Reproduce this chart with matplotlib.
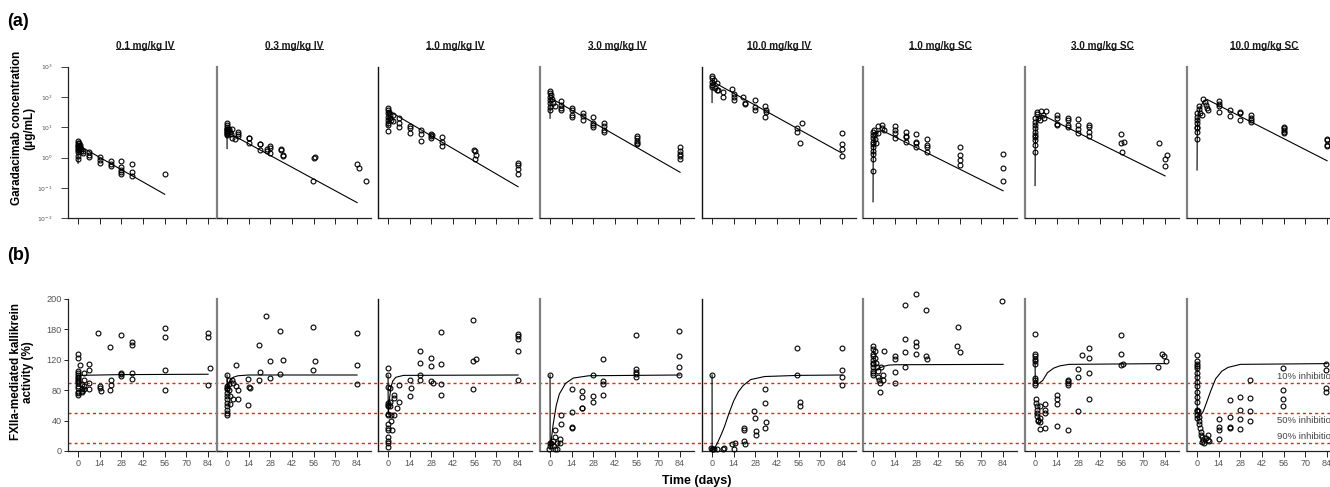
import matplotlib
matplotlib.use('Agg')
import matplotlib.pyplot as plt
from matplotlib.lines import Line2D
from matplotlib.ticker import NullLocator

plt.rcParams['font.family'] = ['Liberation Sans', 'DejaVu Sans']

# ---------------- data ----------------
titles = ['0.1 mg/kg IV', '0.3 mg/kg IV', '1.0 mg/kg IV', '3.0 mg/kg IV',
          '10.0 mg/kg IV', '1.0 mg/kg SC', '3.0 mg/kg SC', '10.0 mg/kg SC']
time_ticks = [0, 14, 28, 42, 56, 70, 84]
pk_ticks = [1e-2, 1e-1, 1e0, 1e1, 1e2, 1e3]
pk_tick_labels = [r'$10^{-2}$', r'$10^{-1}$', r'$10^{0}$', r'$10^{1}$', r'$10^{2}$', r'$10^{3}$']
pd_ticks = [0, 40, 80, 120, 160, 200]
pd_tick_labels = ['0', '40', '80', '120', '180', '200']
thresholds = [90, 50, 10]
threshold_labels = ['10% inhibition', '50% inhibition', '90% inhibition']
threshold_label_y = [98, 39.5, 19]

# PK observations (days, ug/mL)
pk_t1 = [0,0,0,0,0,0,0,0,0,0, 0.5,0.5,1,1,1.5,2,2,3,3, 7,7,7, 14,14,14, 21,21,21, 28,28,28,28,28, 35,35,35, 56]
pk_c1 = [3.6,3.1,2.7,2.4,2.2,2.0,1.8,1.5,1.15,0.9, 3.0,2.5,2.6,2.1,2.3,1.9,1.6,1.7,1.4, 1.5,1.25,1.05, 1.05,0.85,0.68, 0.8,0.63,0.52, 0.8,0.48,0.4,0.33,0.28, 0.62,0.33,0.25, 0.28]
pk_t2 = [0,0,0,0,0,0,0,0,0,0,0, 1,1.5,2,2.5,3, 3.5,5, 7,7,7, 14,14,14, 21,21,21, 25.5,26,27.5,28,28, 35,35,36,36, 55.5,56,57, 84,85, 90]
pk_c2 = [13.5,11.5,10,9,8.5,8,7.5,7,6.5,6,5.5, 8.5,7.5,7,6.2,9, 4.6,4.1, 7.2,6,5, 4.6,4.3,3.1, 2.9,2.8,1.8, 1.9,1.6,2.5,2.1,1.4, 2.0,1.8,1.25,1.1, 0.17,0.99,1.05, 0.62,0.47, 0.17]
pk_t3 = [0,0,0,0,0,0,0,0, 0.5,1,1.5,2,3,3.5, 7,7,7, 14,14,14, 21,21,21, 27.5,28,28,28.5, 35,35,35, 55.5,56,57,56, 84,84,84,84]
pk_c3 = [45,37,29,22,17.5,14,12,7.7, 33,25,20,17,25,16, 21,13.6,10.5, 11,9.3,6.7, 8.1,6.1,3.6, 6,5.2,4.5,5.5, 4.7,3.4,2.5, 1.8,1.6,1.25,0.9, 0.69,0.58,0.43,0.29]
pk_t4 = [0,0,0,0,0,0,0, 0.5,1,2,3, 7,7,7,7, 14,14,14,14, 21,21,21, 28,28,28,28, 35,35,35,35, 56,56,56,56,56, 84,84,84,84,84]
pk_c4 = [162,132,102,80,62,48,37, 115,85,65,50, 74,55,45,36, 42,36,25,22, 29,23,17, 22,14,12,10, 13.6,11,8.1,7.2, 5.2,4.3,3.6,3.1,2.8, 2.3,1.7,1.3,1.1,0.9]
pk_t5 = [0,0,0,0,0, 1,2,3,3.5,4, 7,7, 13,14,14,14, 20,21,21, 28,28,28, 34,34,35,35, 55,55,57,58, 84,84,84,84]
pk_c5 = [490,410,320,250,210, 360,200,170,300,170, 150,98, 180,130,98,80, 100,62,58, 80,48,37, 50,22,36,33, 9.3,7.2,3.0,13.6, 6.4,2.8,2.0,1.1]
pk_t6 = [0,0,0,0,0,0,0,0,0,0, 0.5,1,1.5,2, 3.5,3.5, 6,6,7, 14,14,14,14, 21,21,21,21, 28,28,28,28, 35,35,35,35, 56,56,56,56, 84,84,84]
pk_c6 = [7.2,5.6,4.3,3.4,2.8,2.3,1.6,1.3,0.89,0.35, 8,6,4,3, 11,6.7, 11.5,9.3,8.1, 11,8.1,6.7,4.3, 7.2,5.2,4.7,3.4, 6.1,3.4,3.0,2.2, 4.0,2.7,2.3,1.5, 2.2,1.25,0.85,0.58, 1.3,0.47,0.17]
pk_t7 = [0,0,0,0,0,0,0,0,0,0, 1,1.5,2,3, 4,5,6,7, 14,14,14,14, 21,21,21,21, 28,28,28,28, 35,35,35,35, 55.5,55.5,56,57.5, 80, 85,84,84]
pk_c7 = [20,15.5,12,9.3,7.2,5.6,4.7,3.8,2.6,1.5, 33,28,20,17, 34,25,20,34, 25,21,13,11.5, 21,18,12,10, 19,12,8.7,6.7, 11.5,10,6.9,5, 5.9,3.0,1.5,3.4, 3.0, 1.25,0.89,0.55]
pk_t8 = [0,0,0,0,0,0,0,0, 1,1.5,2,3, 4,5,6,6.5,7, 14,14,14,14, 21,21, 28,28,28, 35,35,35,35, 56,56,56,56,56, 84,84,84,84]
pk_c8 = [29,22,17.5,13.6,10.5,9.3,7.2,4.0, 50,40,30,25, 83,70,55,45,36, 76,59,50,31, 37,24, 33,29,18, 25,21,18,15.5, 10.5,9.3,8.1,7.2,6.3, 4.0,3.8,2.6,2.5]

# PK model predictions
pkfit_t1 = [0, 0, 56]
pkfit_c1 = [0.65, 2.6, 0.062]
pkfit_t2 = [0, 0, 84]
pkfit_c2 = [2.0, 7.0, 0.033]
pkfit_t3 = [0, 0, 84]
pkfit_c3 = [10.5, 36, 0.11]
pkfit_t4 = [0, 0, 84]
pkfit_c4 = [20, 95, 0.33]
pkfit_t5 = [0, 0, 84]
pkfit_c5 = [66, 330, 1.4]
pkfit_t6 = [0, 0.05, 0.3, 1, 2, 4, 6, 84]
pkfit_c6 = [0.035, 0.6, 2.5, 4.5, 6, 7.4, 7.8, 0.081]
pkfit_t7 = [0, 0.1, 0.5, 1, 2, 3, 5, 84]
pkfit_c7 = [0.12, 2, 10, 15, 20, 23, 25, 0.25]
pkfit_t8 = [0, 0.1, 0.5, 1, 2, 4, 6.5, 84]
pkfit_c8 = [0.39, 5, 18, 28, 45, 70, 83, 0.79]

# PD observations (days, % FXIIa-mediated kallikrein activity)
pd_t1 = [0,0,0,0,0,0,0,0,0,0,0,0,0,0,0, 1.5,2.5,2.5,2.5,2.5, 4,4,4,4, 7,7,7,7, 13,14,14,14.5, 20.5,21,21,20.5, 28,28,28,28, 35,35,35,35, 56,56,56,56, 84,84,84,85]
pd_v1 = [128,123,105,103,100,98,96,94,92,89,85,83,78,76,74, 113,82,79,77,88, 103,94,86,81, 115,106,90,82, 155,86,83,79, 137,94,87,80, 153,102,101,99, 144,139,102,95, 162,150,107,80, 155,150,87,109]
pd_t2 = [0,0,0,0,0,0,0,0,0,0,0,0, 1,1,1.5,2,2, 3.5,4,5.5,6,7,7,4, 13.5,14,14.5,13.5, 20.5,20.5,21, 25, 28,28, 34.5,34.5,36, 55.5,55.5,56.5, 84,84,84]
pd_v2 = [100,85,83,81,76,72,68,63,59,54,50,48, 94,88,80,72,62, 93,89,113,85,80,68,68, 95,84,83,60, 140,93,104, 178, 118,96, 158,101,120, 163,107,119, 155,113,88]
pd_t3 = [0,0,0,0,0,0,0,0,0,0,0,0,0,0,0, 1,1,1.5,2,2,2.5, 4,4,4,5.5,7,7, 14,14,15, 20.5,20.5,20.5,20.5, 27.5,28,27.5,29, 34.5,34.5,34.5,34.5, 55,55,55,57, 84,84,84,84,84]
pd_v3 = [109,100,84,63,61,59,49,48,35,30,27,19,13,11,5, 83,64,59,48,39,28, 74,70,48,57,64,87, 94,73,83, 132,116,100,93, 122,112,92,90, 156,114,88,74, 173,118,82,121, 154,151,148,132,94]
pd_t4 = [0,0,0,-0.5, 0.6,1.7,2.4,3.4,3.4,3.4,4.5,4.5,6.7,6.7, 7,7, 14,14,14,14, 20.5,20.5,20.5,20.5, 27.5,27.5,27.5, 34.5,34.5,34.5,34.5, 55.5,55.5,55.5,55.5,55.5, 83.5,83.5,83.5,83.5]
pd_v4 = [100,11,6,3, 10,13,6,27,19,3,10,3,16,11, 47,35, 82,51,32,30, 79,71,57,56, 100,72,64, 121,92,88,74, 152,108,104,101,97, 158,125,111,100]
pd_t5 = [0,-0.5,0,0.5, 1.5,3.5,7,7.5, 13,14,14.5, 20.5,20.5,20.5,21, 27,28,28.5,28.5, 34,34,35,34, 55,55,57,57, 84,84,84,84]
pd_v5 = [100,4,3,2, 3,2,3,4, 9,2,10, 30,28,13,9, 52,44,26,21, 82,63,38,30, 135,100,65,59, 135,106,97,87]
pd_t6 = [0,0,0,0,0,0,0,0,0,0,0, 1,1.5,2,2.5,3,3.5,4,4.5, 4.5,6.5,6.5,7,5, 14,14,14,14, 20.5,20.5,20.5,20.5, 28,28,28,28, 34.5,34.5,35, 54.5,55,56, 83.5]
pd_v6 = [138,134,128,125,120,116,114,111,105,103,100, 131,122,116,111,105,98,93,90, 78,100,93,131,110, 125,121,104,90, 192,148,130,111, 207,144,138,127, 185,125,121, 138,163,130, 197]
pd_t7 = [0,0,0,0,0,0,0,0,0,0, 0.5,0.5,1,1,1.5,1.5,2,2, 3.5,3.5,3.5,3.5, 6.5,6.5,6.5,6.5, 14,14,14,14, 21,21,21,21,21, 28,28,28, 30.5, 35,35,35,35, 55.5,55.5,55.5,57, 79.5, 82,83.5,84.5]
pd_v7 = [154,127,125,121,118,114,96,94,89,87, 68,63,59,54,50,46,41,39, 59,44,38,29, 62,54,50,30, 74,68,62,33, 94,92,89,87,28, 108,98,53, 126, 136,123,102,68, 152,127,113,115, 110, 128,125,119]
pd_t8 = [0,0,0,0,0,0,0,0,0,0,0,0,0,0,0,0, 0.5,1,1.5,1.5,2,2.5, 2.5,3.5,3.5,4,4.5,6,7,7,7.5, 14,14,14,14, 21,21,21,21, 28,28,28,28, 34.5,34.5,34.5,34.5, 55.5,55.5,55.5,55.5, 83.5,83.5,83.5,83.5]
pd_v8 = [126,118,115,112,109,103,98,91,85,78,71,65,54,52,47,43, 53,45,39,35,30,25, 21,18,12,14,11,17,21,15,13, 42,31,28,16, 67,45,31,30, 71,54,42,29, 93,70,52,39, 109,80,68,59, 115,106,83,77]

# PD model predictions
pdfit_t1 = [0, 28, 84]
pdfit_v1 = [99.5, 100.5, 101]
pdfit_t2 = [0, 0.05, 1, 2, 4, 7, 14, 84]
pdfit_v2 = [100, 80, 88, 93, 97, 99, 100, 100]
pdfit_t3 = [0, 0.1, 1, 2, 3, 5, 10, 84]
pdfit_v3 = [100, 48, 70, 85, 92, 97, 99.5, 100]
pdfit_t4 = [0, 0.05, 2, 4, 6, 10, 15, 25, 84]
pdfit_v4 = [100, 2, 35, 60, 75, 89, 96, 99, 100]
pdfit_t5 = [0, 0.05, 1.5, 4, 6, 8, 11, 14, 17, 20, 25, 34, 56, 84]
pdfit_v5 = [100, 2, 3, 13, 22, 32, 50, 66, 78, 86, 94, 98, 99.5, 100]
pdfit_t6 = [0, 2, 4, 7, 10, 14, 84]
pdfit_v6 = [107, 107, 109, 111.5, 113, 113.5, 114]
pdfit_t7 = [0, 0.1, 2, 5, 8, 12, 16, 22, 84]
pdfit_v7 = [121, 95, 88, 93, 103, 109, 112, 114, 115]
pdfit_t8 = [0, 0.1, 2, 4, 6, 9, 12, 16, 20, 28, 84]
pdfit_v8 = [115, 50, 46, 52, 63, 80, 95, 105, 110, 114, 115]

pk_obs = [(pk_t1, pk_c1), (pk_t2, pk_c2), (pk_t3, pk_c3), (pk_t4, pk_c4),
          (pk_t5, pk_c5), (pk_t6, pk_c6), (pk_t7, pk_c7), (pk_t8, pk_c8)]
pk_fit = [(pkfit_t1, pkfit_c1), (pkfit_t2, pkfit_c2), (pkfit_t3, pkfit_c3), (pkfit_t4, pkfit_c4),
          (pkfit_t5, pkfit_c5), (pkfit_t6, pkfit_c6), (pkfit_t7, pkfit_c7), (pkfit_t8, pkfit_c8)]
pd_obs = [(pd_t1, pd_v1), (pd_t2, pd_v2), (pd_t3, pd_v3), (pd_t4, pd_v4),
          (pd_t5, pd_v5), (pd_t6, pd_v6), (pd_t7, pd_v7), (pd_t8, pd_v8)]
pd_fit = [(pdfit_t1, pdfit_v1), (pdfit_t2, pdfit_v2), (pdfit_t3, pdfit_v3), (pdfit_t4, pdfit_v4),
          (pdfit_t5, pdfit_v5), (pdfit_t6, pdfit_v6), (pdfit_t7, pdfit_v7), (pdfit_t8, pdfit_v8)]

# ---------------- layout ----------------
W, H = 1330, 487
fig = plt.figure(figsize=(W / 100, H / 100), dpi=100)
fig.patch.set_facecolor('white')

def fx(px):
    return px / W

def fy(py):
    return 1 - py / H

lefts = [68, 217, 378, 540, 702, 863, 1025, 1187]
AW = 154
XMIN, XMAX = -6.5, 93
top_top, top_bot = 66.7, 218.3
bot_top, bot_bot = 299, 451
spine_gray = [False, True, False, True, False, True, True, True]

TICK_COL = '#555555'
AX_COL = '#222222'
mk = dict(marker='o', linestyle='none', mfc='none', mec='black', ms=3.5, mew=0.8, clip_on=False, zorder=3)

# red threshold lines spanning the whole bottom row
ov = fig.add_axes([fx(68), fy(bot_bot), 1.2, (bot_bot - bot_top) / H])
ov.set_xlim(0, 1)
ov.set_ylim(0, 200)
ov.axis('off')
ov.hlines(thresholds, 0, 1, colors='#ff1a1a', linestyles=(0, (2.2, 2.2)), lw=1.0)

def style_axes(ax, i, row):
    ax.set_facecolor('none')
    ax.spines['top'].set_visible(False)
    ax.spines['right'].set_visible(False)
    ax.spines['bottom'].set_color(AX_COL)
    ax.spines['bottom'].set_linewidth(0.9)
    if i == 0:
        ax.spines['left'].set_color(AX_COL)
        ax.spines['left'].set_linewidth(0.9)
    elif spine_gray[i]:
        ax.spines['left'].set_color('#808080')
        ax.spines['left'].set_linewidth(1.6)
    else:
        ax.spines['left'].set_color('#111111')
        ax.spines['left'].set_linewidth(1.0)
    ax.set_xlim(XMIN, XMAX)
    ax.set_xticks(time_ticks)
    ax.tick_params(axis='x', length=4, width=0.7, color=AX_COL, pad=2,
                   labelsize=6.5, labelcolor=TICK_COL, labelbottom=(row == 1))
    ax.xaxis.set_minor_locator(NullLocator())

title_texts = []
for i in range(8):
    # ---- top row: PK ----
    ax = fig.add_axes([fx(lefts[i]), fy(top_bot), AW / W, (top_bot - top_top) / H])
    style_axes(ax, i, 0)
    ax.set_yscale('log')
    ax.set_ylim(1e-2, 1e3)
    ax.yaxis.set_minor_locator(NullLocator())
    ft, fc = pk_fit[i]
    ax.plot(ft, fc, color='black', lw=0.8, zorder=2)
    ot, oc = pk_obs[i]
    ax.plot(ot, oc, **mk)
    if i == 0:
        ax.set_yticks(pk_ticks)
        ax.set_yticklabels(pk_tick_labels)
        ax.tick_params(axis='y', length=5, width=0.6, color=AX_COL, pad=6,
                       labelsize=4.4, labelcolor=TICK_COL)
    else:
        ax.set_yticks([])
    t = ax.text(0.5, 1.137, titles[i], transform=ax.transAxes, ha='center', va='center',
                fontsize=7.2, fontweight='bold', color='#1a1a1a')
    title_texts.append(t)

    # ---- bottom row: PD ----
    bx = fig.add_axes([fx(lefts[i]), fy(bot_bot), AW / W, (bot_bot - bot_top) / H])
    style_axes(bx, i, 1)
    bx.set_ylim(0, 200)
    ft, fv = pd_fit[i]
    bx.plot(ft, fv, color='black', lw=0.8, zorder=2)
    ot, ov_ = pd_obs[i]
    bx.plot(ot, ov_, **mk)
    if i == 0:
        bx.set_yticks(pd_ticks)
        bx.set_yticklabels(pd_tick_labels)
        bx.tick_params(axis='y', length=3.2, width=0.7, color=AX_COL, pad=1.2,
                       labelsize=6.6, labelcolor=TICK_COL)
    else:
        bx.set_yticks([])
    if i == 7:
        for lab, yv in zip(threshold_labels, threshold_label_y):
            bx.text(51.7, yv, lab, fontsize=6.8, color='#444444', ha='left', va='center',
                    clip_on=False)

# panel letters and axis labels
fig.text(fx(7), fy(22), '(a)', fontsize=13, fontweight='bold', ha='left', va='center')
fig.text(fx(7), fy(255), '(b)', fontsize=13, fontweight='bold', ha='left', va='center')
fig.text(fx(23), fy(128), 'Garadacimab concentration\n(\u03bcg/mL)', rotation=90,
         ha='center', va='center', fontsize=8.4, fontweight='bold', linespacing=1.05,
         multialignment='center')
fig.text(fx(22), fy(372), 'FXIIa-mediated kallikrein\nactivity (%)', rotation=90,
         ha='center', va='center', fontsize=8.4, fontweight='bold', linespacing=1.05,
         multialignment='center')
fig.text(fx(697), fy(481), 'Time (days)', ha='center', va='center', fontsize=9,
         fontweight='bold')

# underline panel titles
fig.canvas.draw()
renderer = fig.canvas.get_renderer()
inv = fig.transFigure.inverted()
for t in title_texts:
    bb = t.get_window_extent(renderer)
    (x0, y0), (x1, _) = inv.transform([(bb.x0, bb.y0 + 1.5), (bb.x1, bb.y0 + 1.5)])
    fig.add_artist(Line2D([x0, x1], [y0, y0], transform=fig.transFigure,
                          color='#1a1a1a', lw=0.7))

fig.savefig('out.png', dpi=100)
